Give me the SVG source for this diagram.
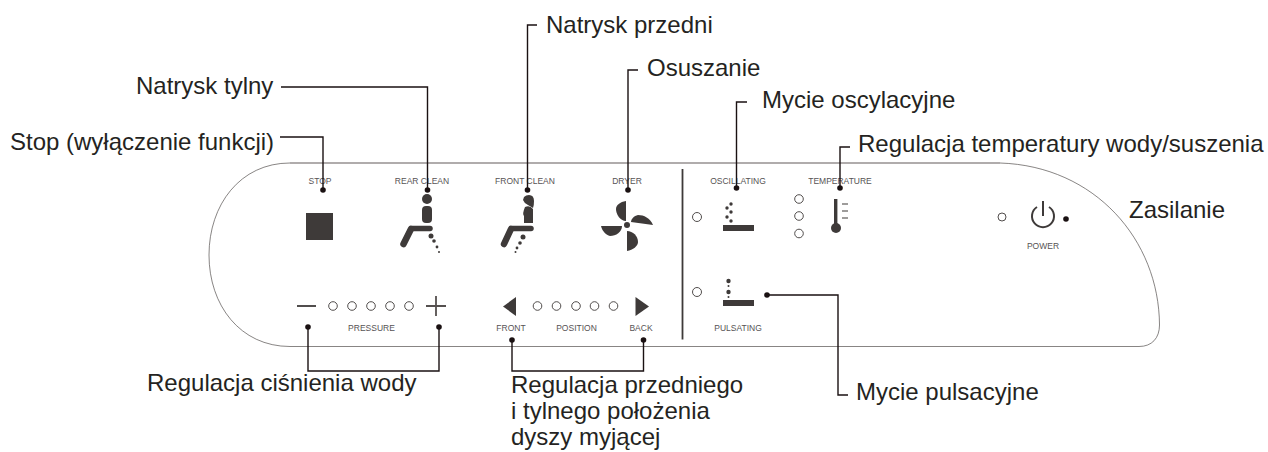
<svg xmlns="http://www.w3.org/2000/svg" width="1268" height="452" viewBox="0 0 1268 452">
<defs><style>
text{font-family:"Liberation Sans",Arial,sans-serif;opacity:.99}
.l{font-size:24px;fill:#231f20}
.s{font-size:8.500px;fill:#555152;text-anchor:middle}
.c{fill:none;stroke:#1a1112;stroke-width:1.400}
.d{fill:#1a1112}
.i{fill:#3e3a39}
.o{fill:#fff;stroke:#3e3a39;stroke-width:.9}
.b{fill:none;stroke:#3e3a39;stroke-linecap:round;stroke-linejoin:round}
</style></defs>
<rect width="1268" height="452" fill="#fff"/>
<g id="panel">
<path d="M290 163H1000C1095 166 1159 240 1159.500 325C1159.500 338 1152 346.500 1139 346.500H290C240 346.500 209 305 209 255C209 205 240 163 290 163Z" fill="#fff" stroke="#55504f" stroke-width=".7"/>
<path d="M290 163H1000" stroke="#aaa5a5" stroke-width="1.300" fill="none"/>
<path d="M682.500 169V339.500" stroke="#3e3a39" stroke-width="1.800"/>
</g>
<g id="stop"><text class="s" x="320" y="184">STOP</text><rect class="i" x="306" y="213" width="27" height="27"/></g>
<g id="rear-clean"><text class="s" x="422" y="184">REAR CLEAN</text>
<circle class="i" cx="427" cy="199" r="5"/><rect class="i" x="422" y="206" width="10" height="17" rx="4"/>
<path class="b" d="M412 228.500H430" stroke-width="5.500"/><path class="b" d="M411 229L403.500 244" stroke-width="6.500"/>
<circle class="i" cx="431" cy="236" r="2.500"/><circle class="i" cx="434" cy="241" r="1.800"/><circle class="i" cx="437" cy="247" r="1.400"/><circle class="i" cx="439" cy="252" r="1"/></g>
<g id="front-clean"><text class="s" x="525" y="184">FRONT CLEAN</text>
<path class="i" d="M524 197Q526 195 529 195Q534 195 534 201Q534 206 533 208L528 205Q524 203 523 200Z"/><path class="i" d="M525 207Q530 205 533 209V223H524V216Q522 214 525 207Z"/>
<path class="b" d="M512 228.500H531" stroke-width="5.500"/><path class="b" d="M511 229L504 244" stroke-width="6.500"/>
<circle class="i" cx="523" cy="237" r="2.500"/><circle class="i" cx="520" cy="243" r="1.800"/><circle class="i" cx="517" cy="248" r="1.400"/><circle class="i" cx="515.500" cy="252" r="1"/></g>
<g id="dryer"><text class="s" x="627" y="184">DRYER</text>
<circle class="i" cx="627" cy="225" r="3"/>
<path class="i" d="M626 201V221C620 221 616 214 616 209C616 205 620 202 626 201Z"/>
<path class="i" d="M631 222L653 225C650 218 644 215 638 215C634 216 631 219 631 222Z"/>
<path class="i" d="M627 251V231C633 231 638 236 638 242C638 246 633 250 627 251Z"/>
<path class="i" d="M601 226L622 226C622 232 616 236 610 236C606 235 602 231 601 226Z"/></g>
<g id="oscillating"><text class="s" x="738" y="184">OSCILLATING</text><circle class="o" cx="697" cy="217" r="4.500"/>
<circle class="i" cx="731" cy="204" r="1.700"/><circle class="i" cx="727" cy="208" r="1.700"/><circle class="i" cx="731" cy="212" r="1.700"/><circle class="i" cx="727" cy="217" r="1.700"/><circle class="i" cx="731" cy="221" r="1.700"/><rect class="i" x="723" y="225" width="31" height="6"/></g>
<g id="temperature"><text class="s" x="840" y="184">TEMPERATURE</text><circle class="o" cx="799" cy="199" r="4.300"/><circle class="o" cx="799" cy="216" r="4.300"/><circle class="o" cx="799" cy="233.500" r="4.300"/>
<rect class="i" x="834" y="199" width="3.400" height="26"/><circle class="i" cx="836" cy="228" r="5"/><path d="M842 204H848M842 211H848M842 218H848" stroke="#3e3a39" stroke-width="1.200"/></g>
<g id="power"><text class="s" x="1043" y="249">POWER</text><circle class="o" cx="1002" cy="217" r="4"/>
<path d="M1037 207A11 11 0 1 0 1049 207M1043 201V216" fill="none" stroke="#3e3a39" stroke-width="2"/></g>
<g id="pulsating"><text class="s" x="738" y="331">PULSATING</text><circle class="o" cx="697" cy="292" r="4.500"/>
<circle class="i" cx="728.500" cy="281" r="2.200"/><circle class="i" cx="728.500" cy="286" r="1"/><circle class="i" cx="728.500" cy="292" r="2.200"/><circle class="i" cx="728.500" cy="297" r="1"/><rect class="i" x="723" y="300" width="31" height="6"/></g>
<g id="pressure"><text class="s" x="371.500" y="331">PRESSURE</text><path d="M297 306H316" stroke="#3e3a39" stroke-width="1.800"/>
<circle class="o" cx="333" cy="306" r="4.300"/><circle class="o" cx="352" cy="306" r="4.300"/><circle class="o" cx="371" cy="306" r="4.300"/><circle class="o" cx="390" cy="306" r="4.300"/><circle class="o" cx="409" cy="306" r="4.300"/>
<path d="M426 306H446M436 296V316" stroke="#55504f" stroke-width="1.800"/></g>
<g id="position"><text class="s" x="511" y="331">FRONT</text><text class="s" x="576.500" y="331">POSITION</text><text class="s" x="641" y="331">BACK</text>
<path class="i" d="M503 306.500L516 297V316Z"/><path class="i" d="M649 306.500L635.500 297V316Z"/>
<circle class="o" cx="537.500" cy="306" r="4.300"/><circle class="o" cx="556.500" cy="306" r="4.300"/><circle class="o" cx="576" cy="306" r="4.300"/><circle class="o" cx="594.500" cy="306" r="4.300"/><circle class="o" cx="613.500" cy="306" r="4.300"/></g>
<g id="connectors">
<path class="c" d="M280 137H323V190M281 87H427.500V190M537 25H527.500V190M638 70H628V190M747 102H736.500V188M850 147H840V188M767 295H838V395H848M308 327V371H439V327M512 340V371H643.500V340"/>
<circle class="d" cx="323" cy="190" r="2.800"/><circle class="d" cx="427.500" cy="190" r="2.800"/><circle class="d" cx="527.500" cy="190" r="2.800"/><circle class="d" cx="628" cy="190" r="2.800"/><circle class="d" cx="736.500" cy="188" r="2.800"/><circle class="d" cx="840" cy="188" r="2.800"/><circle class="d" cx="767" cy="295" r="2.800"/><circle class="d" cx="308" cy="327" r="2.800"/><circle class="d" cx="439" cy="327" r="2.800"/><circle class="d" cx="512" cy="340" r="2.800"/><circle class="d" cx="643.500" cy="340" r="2.800"/><circle class="d" cx="1066" cy="219" r="2.800"/>
</g>
<g id="labels">
<text class="l" x="10" y="150">Stop (wyłączenie funkcji)</text>
<text class="l" x="136" y="94">Natrysk tylny</text>
<text class="l" x="546" y="33">Natrysk przedni</text>
<text class="l" x="647" y="76">Osuszanie</text>
<text class="l" x="762" y="108">Mycie oscylacyjne</text>
<text class="l" x="858" y="152">Regulacja temperatury wody/suszenia</text>
<text class="l" x="1129" y="218">Zasilanie</text>
<text class="l" x="147" y="391">Regulacja ciśnienia wody</text>
<text class="l" x="511" y="393">Regulacja przedniego</text>
<text class="l" x="511" y="419">i tylnego położenia</text>
<text class="l" x="511" y="445">dyszy myjącej</text>
<text class="l" x="856" y="400">Mycie pulsacyjne</text>
</g>
</svg>
